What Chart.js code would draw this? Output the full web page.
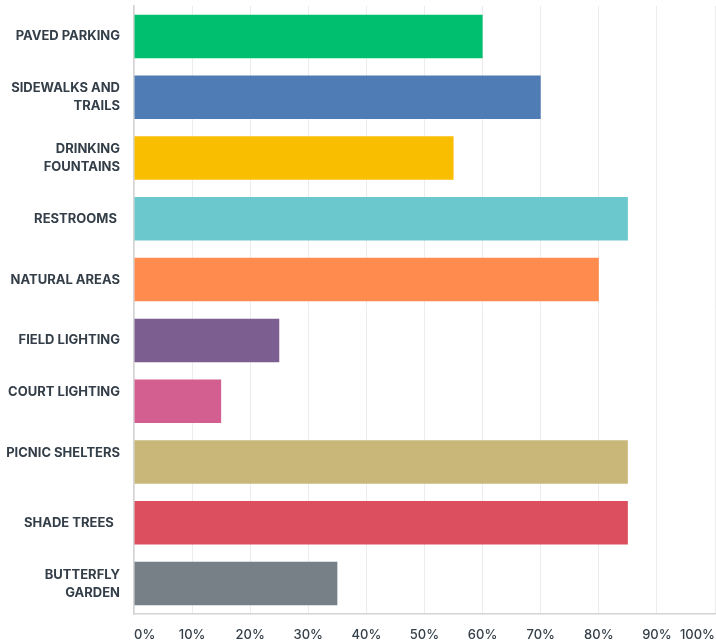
<!DOCTYPE html>
<html>
<head>
<meta charset="utf-8">
<script src="https://cdn.jsdelivr.net/npm/chart.js@4"></script>
<style>
  html, body { margin: 0; padding: 0; background: #fff; }
  #wrap { position: relative; width: 716px; height: 644px; }
</style>
</head>
<body>
<div id="wrap"><canvas id="amenity-chart"></canvas></div>
<script>
'use strict';

// labels as they appear on the y axis (some carry trailing space / blank line like the original)
const categories = [
  'PAVED PARKING',
  ['SIDEWALKS AND', 'TRAILS'],
  ['DRINKING', 'FOUNTAINS'],
  'RESTROOMS ',
  'NATURAL AREAS',
  'FIELD LIGHTING',
  ['COURT LIGHTING', ''],
  ['PICNIC SHELTERS', ''],
  'SHADE TREES  ',
  ['BUTTERFLY', 'GARDEN'],
];
const percentValues = [60, 70, 55, 85, 80, 25, 15, 85, 85, 35];
const barColors = ['#00bf6f', '#507cb6', '#f9be00', '#6bc8cd', '#ff8b4f', '#7d5e90', '#d25f90', '#c9b77a', '#db4f5e', '#768086'];
const xTicks = [0, 10, 20, 30, 40, 50, 60, 70, 80, 90, 100];

const textColor = '#333e48';

// drop the extra room chart.js reserves for overhanging tick labels
function noOverhang(s) {
  s.paddingTop = 0;
  s.paddingBottom = 0;
  s.paddingLeft = 0;
  s.paddingRight = 0;
}

const ctx = document.getElementById('amenity-chart').getContext('2d');
new Chart(ctx, {
  type: 'bar',
  data: {
    labels: categories,
    datasets: [{
      data: percentValues,
      backgroundColor: barColors,
      borderWidth: 0,
      barPercentage: 1,
      categoryPercentage: 0.715,
    }],
  },
  options: {
    indexAxis: 'y',
    responsive: true,
    maintainAspectRatio: false,
    animation: false,
    layout: { padding: { top: 6, right: 1, left: 0, bottom: 0 } },
    plugins: { legend: { display: false }, tooltip: { enabled: false } },
    scales: {
      x: {
        min: 0,
        max: 100,
        afterBuildTicks: s => { s.ticks = xTicks.map(v => ({ value: v })); },
        afterFit: s => { s.height = 30; noOverhang(s); },
        grid: { color: '#ececec', lineWidth: 1, drawTicks: false },
        border: { color: '#d4d4d4', width: 1.5 },
        ticks: {
          align: 'inner',
          padding: 13,
          color: textColor,
          font: { family: 'Inter', size: 13, weight: '500' },
          callback: v => v + '%',
        },
      },
      y: {
        afterFit: s => { s.width = 134; noOverhang(s); },
        grid: { display: false, drawTicks: false },
        border: { color: '#d4d4d4', width: 1.5 },
        ticks: {
          padding: 14,
          color: textColor,
          font: { family: 'Inter', size: 13, weight: 'bold', lineHeight: 1.385 },
        },
      },
    },
  },
});
</script>
</body>
</html>
